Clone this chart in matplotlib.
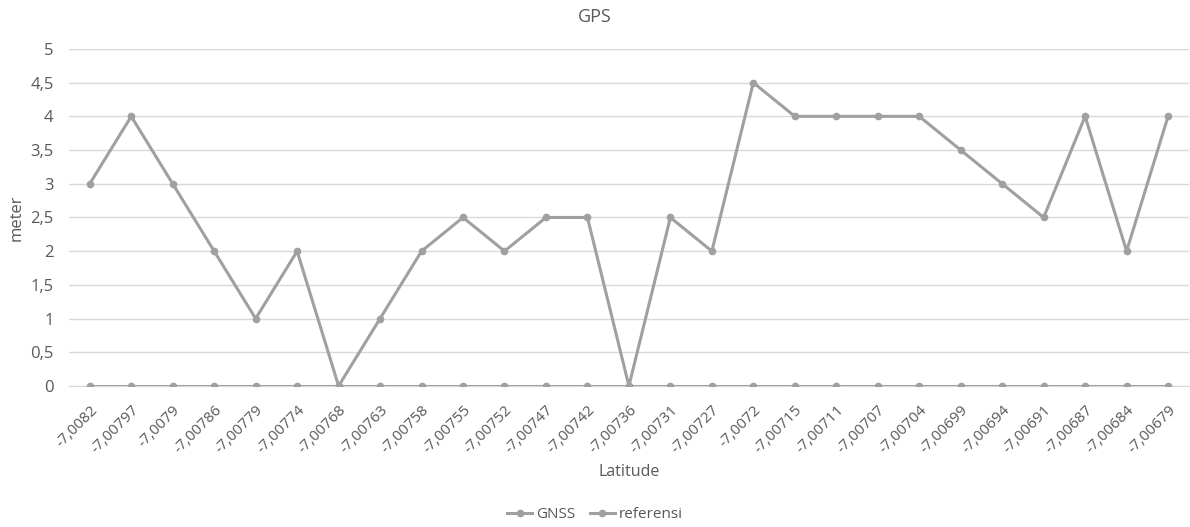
import matplotlib
matplotlib.use("Agg")
import matplotlib.pyplot as plt
from matplotlib.ticker import FuncFormatter

latitudes = ["-7,0082", "-7,00797", "-7,0079", "-7,00786", "-7,00779", "-7,00774",
             "-7,00768", "-7,00763", "-7,00758", "-7,00755", "-7,00752", "-7,00747",
             "-7,00742", "-7,00736", "-7,00731", "-7,00727", "-7,0072", "-7,00715",
             "-7,00711", "-7,00707", "-7,00704", "-7,00699", "-7,00694", "-7,00691",
             "-7,00687", "-7,00684", "-7,00679"]
gnss = [3, 4, 3, 2, 1, 2, 0, 1, 2, 2.5, 2, 2.5, 2.5, 0, 2.5, 2, 4.5, 4, 4, 4, 4,
        3.5, 3, 2.5, 4, 2, 4]
referensi = [0] * len(latitudes)

plt.rcParams['font.family'] = ['Open Sans', 'DejaVu Sans']
TEXT = '#595959'
LINE = '#a0a0a0'

fig = plt.figure(figsize=(11.9, 5.27), dpi=100)
ax = fig.add_axes([0.058, 0.2676, 0.941, 0.6395])

x = list(range(len(latitudes)))
ax.plot(x, gnss, color=LINE, lw=2.2, marker='o', ms=4.5, label='GNSS', zorder=3)
ax.plot(x, referensi, color=LINE, lw=2.2, marker='o', ms=4.5, label='referensi', zorder=3)

ax.set_xlim(-0.5, len(latitudes) - 0.5)
ax.set_ylim(0, 5)
ax.set_yticks([i * 0.5 for i in range(11)])
ax.yaxis.set_major_formatter(FuncFormatter(lambda v, p: f"{v:g}".replace('.', ',')))
ax.grid(axis='y', color='#d9d9d9', lw=1)
ax.set_axisbelow(True)
for s in ['top', 'right', 'left']:
    ax.spines[s].set_visible(False)
ax.spines['bottom'].set_color('#d9d9d9')
ax.tick_params(axis='both', length=0, colors=TEXT)
ax.tick_params(axis='y', pad=11, labelsize=12)
ax.set_xticks(x)
ax.set_xticklabels(latitudes, rotation=45, ha='right', rotation_mode='anchor')
ax.tick_params(axis='x', pad=12, labelsize=11)

fig.text(0.5, (527 - 17) / 527, 'GPS', color=TEXT, fontsize=13, ha='center', va='center')
ax.set_ylabel('meter', color=TEXT, fontsize=12)
ax.yaxis.set_label_coords(-0.040, 0.5)
ax.set_xlabel('Latitude', color=TEXT, fontsize=11.5)
ax.xaxis.set_label_coords(0.5, -0.232)

fig.legend(loc='center', bbox_to_anchor=(0.5, 12 / 527), ncol=2, frameon=False,
           fontsize=11, labelcolor=TEXT, handlelength=1.6, columnspacing=1.0,
           handletextpad=0.25)

fig.savefig('out.png', dpi=100)
